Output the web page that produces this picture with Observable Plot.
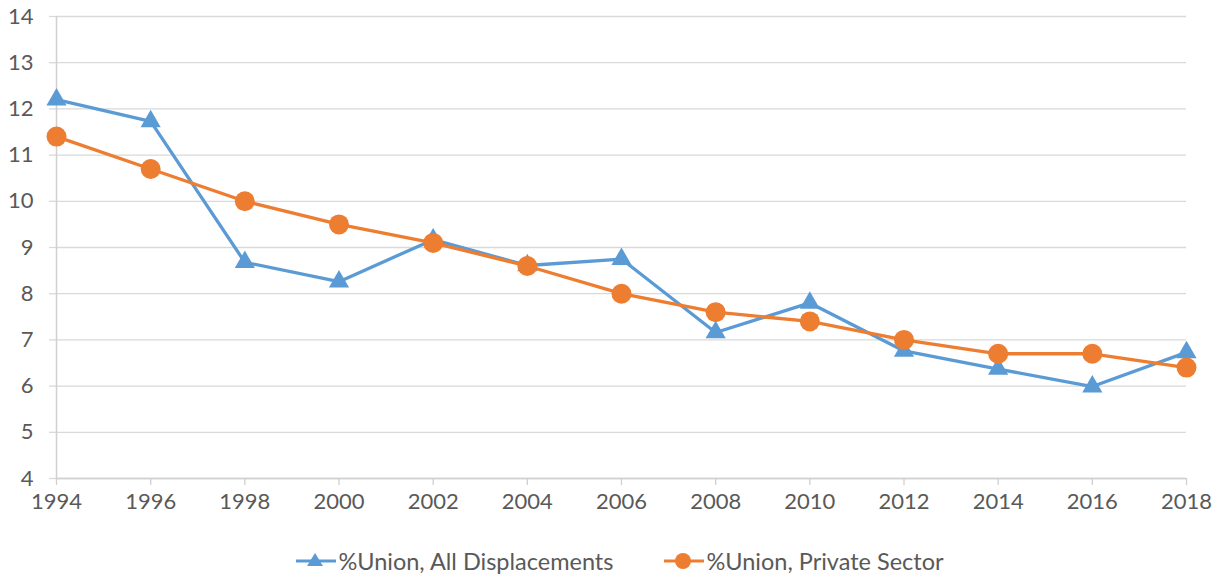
<!DOCTYPE html>
<html>
<head>
<meta charset="utf-8">
<script src="https://cdn.jsdelivr.net/npm/d3@7"></script>
<script src="https://cdn.jsdelivr.net/npm/@observablehq/plot@0.6"></script>
<style>
  body { margin: 0; background: #fff; font-family: Lato, "Open Sans", sans-serif; }
  #legend { display: flex; justify-content: center; gap: 50px; height: 57px; align-items: center; color: #595959; font-size: 23.5px; padding-left: 22px; margin-top: 12px; }
  .item { display: flex; align-items: center; gap: 1px; }
</style>
</head>
<body>
<div id="chart"></div>
<div id="legend"></div>
<script>
const years = [1994, 1996, 1998, 2000, 2002, 2004, 2006, 2008, 2010, 2012, 2014, 2016, 2018];
const allDisplacements = [12.2, 11.73, 8.68, 8.26, 9.17, 8.61, 8.75, 7.16, 7.8, 6.76, 6.37, 5.99, 6.73];
const privateSector = [11.4, 10.7, 10.0, 9.5, 9.1, 8.6, 8.0, 7.6, 7.4, 7.0, 6.7, 6.7, 6.4];
const seriesNames = ["%Union, All Displacements", "%Union, Private Sector"];
const colors = ["#5B9BD5", "#ED7D31"];
const yTicks = [4, 5, 6, 7, 8, 9, 10, 11, 12, 13, 14];

const blue = years.map((y, i) => ({year: y, value: allDisplacements[i]}));
const orange = years.map((y, i) => ({year: y, value: privateSector[i]}));

const chart = Plot.plot({
  width: 1217,
  height: 520,
  marginLeft: 56,
  marginRight: 31,
  marginTop: 16,
  marginBottom: 42,
  style: {fontFamily: "Lato, 'Open Sans', sans-serif", fontSize: "22px", color: "#595959", background: "#fff"},
  x: {domain: [1994, 2018]},
  y: {domain: [4, 14]},
  marks: [
    Plot.gridY(yTicks, {stroke: "#d9d9d9", strokeOpacity: 1, strokeWidth: 1.3}),
    Plot.axisY(yTicks, {tickSize: 7, tickPadding: 16, stroke: "#d9d9d9", strokeWidth: 1.3, fill: "#595959", label: null, fontSize: 22}),
    Plot.ruleX([1994], {stroke: "#d0d0d0", strokeWidth: 1.5}),
    Plot.ruleY([4], {stroke: "#d0d0d0", strokeWidth: 1.5}),
    Plot.axisX(years, {tickSize: 7, tickPadding: 8, stroke: "#d0d0d0", strokeWidth: 1.3, fill: "#595959", label: null, tickFormat: d => String(d), fontSize: 22}),
    Plot.line(blue, {x: "year", y: "value", stroke: colors[0], strokeWidth: 3.3}),
    Plot.dot(blue, {x: "year", y: "value", symbol: "triangle", r: 7.5, fill: colors[0], stroke: "none"}),
    Plot.line(orange, {x: "year", y: "value", stroke: colors[1], strokeWidth: 3.3}),
    Plot.dot(orange, {x: "year", y: "value", r: 10, fill: colors[1], stroke: "none"})
  ]
});
document.getElementById("chart").appendChild(chart);

const legend = document.getElementById("legend");
seriesNames.forEach((name, i) => {
  const item = document.createElement("div");
  item.className = "item";
  const marker = i === 0
    ? `<polygon points="20,2 28,15 12,15" fill="${colors[i]}"/>`
    : `<circle cx="20" cy="10" r="8" fill="${colors[i]}"/>`;
  item.innerHTML = `<svg width="42" height="20"><line x1="1" y1="10" x2="41" y2="10" stroke="${colors[i]}" stroke-width="3"/>${marker}</svg><span>${name}</span>`;
  legend.appendChild(item);
});
</script>
</body>
</html>
